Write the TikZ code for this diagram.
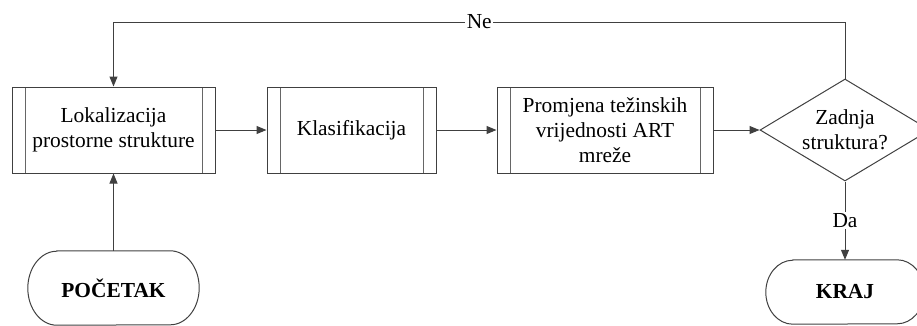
\documentclass[tikz,border=0pt]{standalone}
\usepackage{fontspec}
\setmainfont{Liberation Serif}
\usetikzlibrary{shapes.geometric,arrows.meta}
\newcommand\diagfont{\fontsize{21.4}{25}\selectfont}
\begin{document}
\begin{tikzpicture}[x=1pt,y=-1pt,
  line/.style={draw=black!75,line width=1pt},
  arr/.style={line,-{Triangle[length=10pt,width=8pt]}},
  proc/.style={draw=black!75,line width=1pt,minimum height=86pt,inner sep=0pt,align=center,font=\diagfont,
     path picture={\draw[black!60,line width=1pt]
       ([xshift=13pt]path picture bounding box.north west) -- ([xshift=13pt]path picture bounding box.south west)
       ([xshift=-13pt]path picture bounding box.north east) -- ([xshift=-13pt]path picture bounding box.south east);}},
  term/.style={inner sep=0pt,font=\diagfont\bfseries},
  dec/.style={diamond,shape aspect=1.667,draw=black!75,line width=1pt,minimum width=170pt,minimum height=102pt,inner sep=0pt,align=center,font=\diagfont},
  lbl/.style={fill=white,inner sep=1.5pt,font=\diagfont}
]
\useasboundingbox (0,0) rectangle (917,325);
\clip (0,0) rectangle (917,325);

\node[proc,minimum width=203pt] (b1) at (113.5,130) {Lokalizacija\\prostorne strukture};
\node[proc,minimum width=169pt] (b2) at (351.5,130) {Klasifikacija};
\node[proc,minimum width=216pt] (b3) at (605,130) {Promjena težinskih\\vrijednosti ART\\mreže};
\node[dec] (d) at (845,130) {Zadnja\\struktura?};
\node[term,minimum width=171pt,minimum height=74pt] (s) at (113.5,288) {POČETAK};
\node[term,minimum width=158pt,minimum height=64pt] (e) at (845,292) {KRAJ};

% terminal outlines
\draw[line] ([xshift=29pt]s.north west) -- ([xshift=-29pt]s.north east)
  arc[start angle=90,end angle=-90,x radius=29pt,y radius=37pt]
  -- ([xshift=29pt]s.south west)
  arc[start angle=270,end angle=90,x radius=29pt,y radius=37pt] -- cycle;
\draw[line] ([xshift=27pt]e.north west) -- ([xshift=-27pt]e.north east)
  arc[start angle=90,end angle=-90,x radius=27pt,y radius=32pt]
  -- ([xshift=27pt]e.south west)
  arc[start angle=270,end angle=90,x radius=27pt,y radius=32pt] -- cycle;

\coordinate (tr) at (845,22);
\coordinate (tl) at (113.5,22);

\draw[arr] (b1.east) -- (b2.west);
\draw[arr] (b2.east) -- (b3.west);
\draw[arr] (b3.east) -- (d.west);
\draw[arr] (s.north) -- (b1.south);
\draw[arr] (d.north) -- (tr) -- node[lbl]{Ne} (tl) -- (b1.north);
\draw[arr] (d.south) -- node[lbl]{Da} (e.north);
\end{tikzpicture}
\end{document}
